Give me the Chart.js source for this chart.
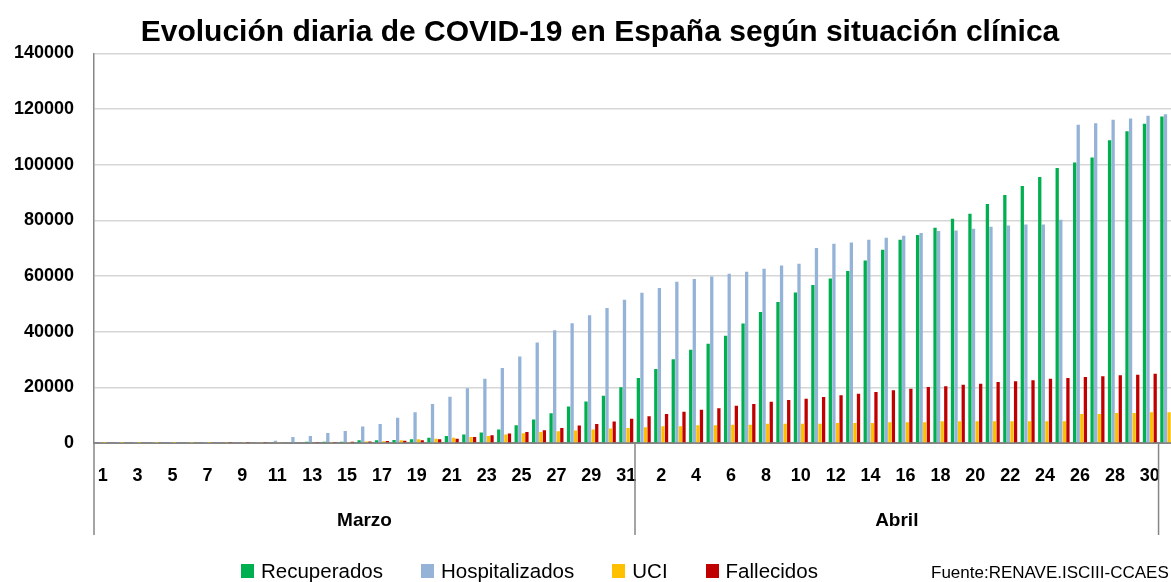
<!DOCTYPE html>
<html lang="es">
<head>
<meta charset="UTF-8">
<title>Evolución diaria de COVID-19 en España</title>
<script src="https://cdn.jsdelivr.net/npm/chart.js"></script>
<style>
    html, body { margin: 0; padding: 0; overflow: hidden; background: #fff; }
    #wrap { position: relative; width: 1200px; height: 582px; }
    #titulo { position: absolute; left: 0; top: 14px; width: 1200px; text-align: center;
              font: bold 30px "Liberation Sans", Arial, sans-serif; color: #000; white-space: nowrap; }
    #legend { position: absolute; left: 241px; top: 559px; display: flex; align-items: center;
              font: 20.5px "Liberation Sans", Arial, sans-serif; color: #000; white-space: nowrap; }
    .item { display: flex; align-items: center; margin-right: 38px; }
    .box { width: 13px; height: 14px; margin-right: 7px; }
    #fuente { position: absolute; left: 931px; top: 563px; font: 17px "Liberation Sans", Arial, sans-serif;
              color: #000; white-space: nowrap; }
</style>
</head>
<body>

<div id="wrap">
    <canvas id="chart" width="1200" height="582"></canvas>
    <div id="titulo">Evolución diaria de COVID-19 en España según situación clínica</div>
    <div id="legend"></div>
    <div id="fuente">Fuente:RENAVE.ISCIII-CCAES</div>
</div>

<script>
    // dias: 1-31 marzo, 1-30 abril, 1 mayo
    const dayLabels = ['1','2','3','4','5','6','7','8','9','10','11','12','13','14','15','16','17','18','19','20',
        '21','22','23','24','25','26','27','28','29','30','31',
        '1','2','3','4','5','6','7','8','9','10','11','12','13','14','15','16','17','18','19','20',
        '21','22','23','24','25','26','27','28','29','30',
        '1'];
    const months = ['Marzo', 'Abril'];
    const monthDays = [31, 30];
    const yTicks = [0, 20000, 40000, 60000, 80000, 100000, 120000, 140000];

    const recuperados = [0,0,0,0,0,0,0,0,0,0,0,0,450,450,480,1000,1020,1100,1325,1928,
        2530,3012,3735,4819,6386,8434,10723,13133,14940,16988,20000,
        23400,26587,30060,33533,35689,38563,42994,47066,50659,54132,56766,59162,61796,65629,69461,73054,74731,77365,80599,82395,
        85868,89102,92335,95569,98802,100838,102635,108862,112096,114731,
        117365];
    const hospitalizados = [200,200,200,200,200,200,200,250,300,350,830,2150,2500,3580,4300,5970,6850,9036,11084,13976,
        16627,19639,23133,26988,31084,36145,40482,43012,45904,48554,51446,
        54000,55689,57964,58922,59880,60838,61557,62635,63832,64431,70060,71617,72096,73054,73772,74491,75449,76168,76407,77006,
        77725,78204,78563,78563,80240,114371,114970,116168,116647,117605,
        118204];
    const uci = [100,100,100,100,100,100,100,150,150,150,150,250,300,350,400,550,650,964,1325,1566,
        1928,2169,2530,3012,3494,3976,4217,4458,4819,5181,5422,
        5700,5988,5988,6347,6347,6587,6587,6946,6946,6946,6946,7186,7186,7186,7425,7425,7425,7784,7784,7784,
        7784,7784,7784,7784,7784,10419,10419,10778,10778,11018,
        11018];
    const fallecidos = [0,0,0,0,0,0,0,200,200,220,250,300,350,400,450,550,723,800,964,1325,
        1566,2169,2771,3373,3976,4578,5422,6265,6867,7711,8675,
        9600,10419,11257,11976,12455,13413,14012,14850,15449,15928,16527,17126,17725,18323,18922,19521,20120,20359,20958,21317,
        21916,22156,22515,23114,23353,23713,23952,24311,24551,24910,
        25100];

    const family = '"Liberation Sans", Arial, sans-serif';

    const series = [
        { label: 'Recuperados', data: recuperados, color: '#00B050' },
        { label: 'Hospitalizados', data: hospitalizados, color: '#95B3D7' },
        { label: 'UCI', data: uci, color: '#FFC000' },
        { label: 'Fallecidos', data: fallecidos, color: '#C00000' }
    ];

    // etiquetas de mes y separadores bajo el eje x
    const monthAxis = {
        id: 'monthAxis',
        afterDraw(chart) {
            const { ctx, chartArea } = chart;
            const x = chart.scales.x;
            const half = (x.getPixelForValue(1) - x.getPixelForValue(0)) / 2;
            const top = chartArea.bottom, bottom = chartArea.bottom + 92;
            const line = px => {
                ctx.beginPath();
                ctx.moveTo(px, top);
                ctx.lineTo(px, bottom);
                ctx.stroke();
            };
            ctx.save();
            ctx.strokeStyle = '#868686';
            ctx.lineWidth = 1.5;
            ctx.fillStyle = '#000';
            ctx.font = 'bold 19px ' + family;
            ctx.textAlign = 'center';
            ctx.textBaseline = 'middle';
            line(chartArea.left);
            let start = 0;
            months.forEach((m, i) => {
                const end = start + monthDays[i];
                const x0 = x.getPixelForValue(start) - half;
                const x1 = x.getPixelForValue(end - 1) + half;
                line(x1);
                ctx.fillText(m, (x0 + x1) / 2, chartArea.bottom + 78);
                start = end;
            });
            ctx.restore();
        }
    };

    const chart = new Chart(document.getElementById('chart'), {
        type: 'bar',
        data: {
            labels: dayLabels,
            datasets: series.map(s => ({
                label: s.label,
                data: s.data,
                backgroundColor: s.color,
                borderWidth: 0,
                barPercentage: 0.92,
                categoryPercentage: 0.82
            }))
        },
        options: {
            responsive: false,
            animation: false,
            layout: { padding: { left: 0, right: 24, top: 53.5, bottom: 0 } },
            plugins: {
                legend: { display: false },
                tooltip: { enabled: false },
                title: { display: false }
            },
            scales: {
                x: {
                    ticks: {
                        color: '#000',
                        font: { family: family, size: 18, weight: 'bold' },
                        autoSkip: false,
                        maxRotation: 0,
                        padding: 22,
                        callback: (v, i) => (i % 2 === 0 ? dayLabels[i] : '')
                    },
                    grid: { display: false, drawTicks: false },
                    border: { display: true, color: '#868686', width: 2 },
                    afterFit: s => { s.height = 139; }
                },
                y: {
                    min: 0,
                    max: 140000,
                    afterBuildTicks: s => { s.ticks = yTicks.map(v => ({ value: v })); },
                    ticks: {
                        color: '#000',
                        font: { family: family, size: 18, weight: 'bold' },
                        padding: 20,
                        callback: v => String(v)
                    },
                    grid: { color: '#d6d6d6', lineWidth: 1.4, drawTicks: false },
                    border: { display: true, color: '#868686', width: 1.5 },
                    afterFit: s => { s.width = 94; }
                }
            }
        },
        plugins: [monthAxis]
    });

    // leyenda en HTML, desde los datasets
    const legend = document.getElementById('legend');
    chart.data.datasets.forEach(ds => {
        const item = document.createElement('div');
        item.className = 'item';
        const box = document.createElement('span');
        box.className = 'box';
        box.style.background = ds.backgroundColor;
        const txt = document.createElement('span');
        txt.textContent = ds.label;
        item.appendChild(box);
        item.appendChild(txt);
        legend.appendChild(item);
    });
</script>

</body>
</html>
